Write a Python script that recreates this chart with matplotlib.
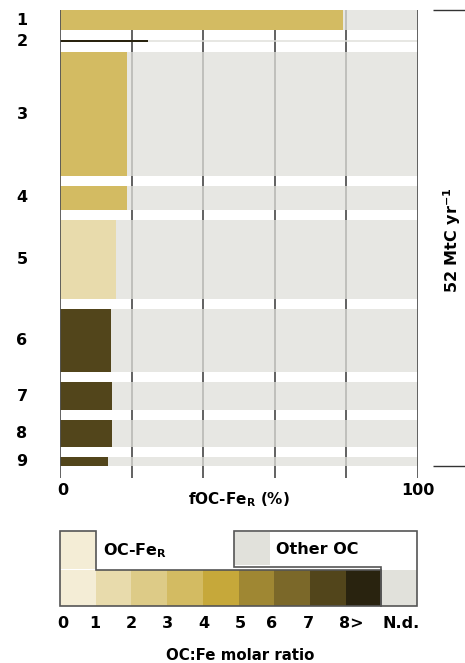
import numpy as np
import matplotlib
matplotlib.use("Agg")
from matplotlib import pyplot as plt
from matplotlib.patches import Rectangle, Polygon

# rows (flux in MtC/yr sets bar thickness), fOC-FeR in %
rows = ['1', '2', '3', '4', '5', '6', '7', '8', '9']
flux = [2.8, 0.3, 17.0, 3.3, 11.0, 8.7, 3.9, 3.7, 1.2]
foc_fer = [79.0, 24.5, 18.7, 18.7, 15.6, 14.2, 14.6, 14.5, 13.3]
ratio_class = [3, 8, 3, 3, 1, 7, 7, 7, 7]

# OC:Fe molar ratio classes
class_colors = ['#f4edd6', '#e8dbac', '#ddcb87', '#d3bb62', '#c6a83a',
                '#9f8733', '#7b6829', '#52451b', '#29230f']
nd_color = '#e1e1db'
other_color = '#e0e0da'
class_labels = ['0', '1', '2', '3', '4', '5', '6', '7', '8>', 'N.d.']
total_label = '52 MtC yr$^{\\mathbf{-1}}$'

plt.rcParams['font.family'] = ['DejaVu Sans']
plt.rcParams['font.weight'] = 'bold'

W, H = 465, 663
fig = plt.figure(figsize=(W / 100, H / 100), dpi=100)

# ---- main bar chart ----
gap = 1.38
ax = fig.add_axes([60 / W, (H - 478) / H, 358 / W, 468 / H])
y0 = 0
tops = []
for i in range(len(rows)):
    tops.append(y0)
    y0 += flux[i] + gap
bottom = tops[-1] + flux[-1]
ylow = bottom + 1.66

ax.vlines([20, 40, 60, 80], 0, ylow, color='#555555', lw=1.3, zorder=1)
ax.vlines([0, 100], 0, ylow, color='#555555', lw=1.3, zorder=4)

for i in range(len(rows)):
    ax.barh(tops[i], 100, height=flux[i], align='edge', color=other_color,
            alpha=0.75, lw=0, zorder=2)
    ax.barh(tops[i], foc_fer[i], height=flux[i], align='edge',
            color=class_colors[ratio_class[i]], lw=0, zorder=3)
    ax.text(-10.6, tops[i] + flux[i] / 2, rows[i], ha='center', va='center',
            fontsize=11.5, fontweight='bold', clip_on=False)

ax.set_xlim(0, 100)
ax.set_ylim(ylow, 0)
ax.set_yticks([])
ax.set_xticks([])
for s in ax.spines.values():
    s.set_visible(False)
ax.text(0.8, ylow + 1.66, '0', ha='center', va='center', fontsize=11.5, fontweight='bold', clip_on=False)
ax.text(100, ylow + 1.66, '100', ha='center', va='center', fontsize=11.5, fontweight='bold', clip_on=False)
ax.text(50, ylow + 3.0, 'fOC-Fe$_\\mathbf{R}$ (%)', ha='center', va='center', fontsize=11,
        fontweight='bold', clip_on=False)

# bracket for total flux
ax.hlines([0, bottom], 104.2, 113.5, color='#333333', lw=1, clip_on=False)
ax.text(109.5, 31.8, total_label, rotation=90, ha='center', va='center',
        fontsize=11.5, fontweight='bold', clip_on=False)

# ---- legend ----
lg = fig.add_axes([60 / W, (H - 606) / H, 357 / W, 75 / H])
lg.set_xlim(0, 10)
lg.set_ylim(0, 75)
lg.axis('off')
for i, c in enumerate(class_colors + [nd_color]):
    lg.add_patch(Rectangle((i, 0), 1, 36, color=c, lw=0))
lg.add_patch(Rectangle((0, 37.5), 1, 37.5, color=class_colors[0], lw=0))
lg.add_patch(Rectangle((4.87, 41), 1.0, 33, color=nd_color, lw=0))
lg.add_patch(Polygon([(0, 75), (1, 75), (1, 36), (9, 36), (9, 0), (0, 0)],
                     closed=True, fill=False, ec='#555555', lw=1.2, clip_on=False))
lg.add_patch(Polygon([(4.87, 75), (10, 75), (10, 0), (9, 0), (9, 39), (4.87, 39)],
                     closed=True, fill=False, ec='#555555', lw=1.2, clip_on=False))
lg.text(1.2, 55, 'OC-Fe$_\\mathbf{R}$', ha='left', va='center', fontsize=11.5, fontweight='bold')
lg.text(6.05, 57, 'Other OC', ha='left', va='center', fontsize=11.5, fontweight='bold')

label_pos = [0.08, 0.98, 1.99, 3.0, 4.03, 5.04, 5.94, 6.97, 8.15, 9.55]
for p, t in zip(label_pos, class_labels):
    lg.text(p, -17, t, ha='center', va='center', fontsize=11.5, fontweight='bold', clip_on=False)
lg.text(5.04, -49, 'OC:Fe molar ratio', ha='center', va='center', fontsize=10.8,
        fontweight='bold', clip_on=False)

fig.savefig('out.png', dpi=100)
plt.close(fig)
